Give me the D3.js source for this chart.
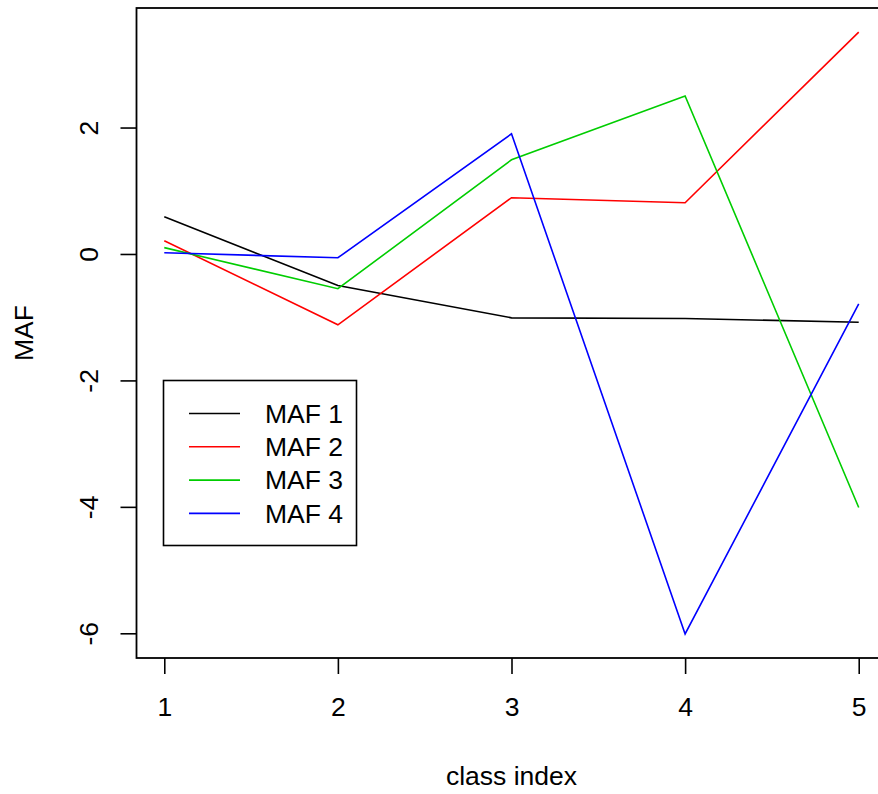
<!DOCTYPE html>
<html>
<head>
<meta charset="utf-8">
<script src="https://cdn.jsdelivr.net/npm/d3@7"></script>
<style>
  html, body { margin: 0; padding: 0; background: #fff; }
  svg { display: block; }
  text { font-family: "Liberation Sans", Arial, sans-serif; fill: #000; }
</style>
</head>
<body>
<svg id="chart" width="878" height="794"></svg>
<script>
// Class index along the x axis
const classIndex = [1, 2, 3, 4, 5];

// MAF scores per class
const maf1 = [0.59, -0.50, -1.01, -1.02, -1.08];
const maf2 = [0.21, -1.12, 0.89, 0.81, 3.51];
const maf3 = [0.10, -0.55, 1.49, 2.50, -4.01];
const maf4 = [0.02, -0.06, 1.90, -6.01, -0.79];

const seriesNames = ["MAF 1", "MAF 2", "MAF 3", "MAF 4"];
const seriesColors = ["#000000", "#FF0000", "#00CD00", "#0000FF"];
const seriesValues = [maf1, maf2, maf3, maf4];

const xTicks = [1, 2, 3, 4, 5];
const yTicks = [-6, -4, -2, 0, 2];

const svg = d3.select("#chart");
const fontSize = 26.5;

// Plot region (box) in pixels
const box = { left: 136.5, right: 886.5, top: 8, bottom: 658 };

// Expand a data extent by 4% on each side
function padded(ext) {
  const d = (ext[1] - ext[0]) * 0.04;
  return [ext[0] - d, ext[1] + d];
}

const x = d3.scaleLinear()
  .domain(padded(d3.extent(classIndex)))
  .range([box.left, box.right]);

const allVals = seriesValues.flat();
const y = d3.scaleLinear()
  .domain(padded(d3.extent(allVals)))
  .range([box.bottom, box.top]);

// Plain ASCII hyphen for negative tick labels
const plainNum = d => String(d);

// Series lines
const line = d3.line()
  .x((d, i) => x(classIndex[i]))
  .y(d => y(d));

svg.append("g")
  .selectAll("path")
  .data(seriesValues)
  .join("path")
  .attr("d", d => line(d))
  .attr("fill", "none")
  .attr("stroke", (d, i) => seriesColors[i])
  .attr("stroke-width", 1.6)
  .attr("stroke-linejoin", "miter");

// X axis (ticks and labels below the box)
const xAxis = d3.axisBottom(x)
  .tickValues(xTicks)
  .tickFormat(plainNum)
  .tickSize(16)
  .tickSizeOuter(0)
  .tickPadding(23);

const gx = svg.append("g")
  .attr("transform", `translate(0,${box.bottom})`)
  .call(xAxis);
gx.select(".domain").remove();
gx.selectAll(".tick line").attr("stroke", "#000").attr("stroke-width", 1.6);
gx.selectAll(".tick text")
  .attr("font-size", fontSize)
  .attr("font-family", "Liberation Sans, Arial, sans-serif")
  .attr("fill", "#000");

// Y axis (ticks left of the box, labels rotated)
const yAxis = d3.axisLeft(y)
  .tickValues(yTicks)
  .tickFormat(plainNum)
  .tickSize(16)
  .tickSizeOuter(0);

const gy = svg.append("g")
  .attr("transform", `translate(${box.left},0)`)
  .call(yAxis);
gy.select(".domain").remove();
gy.selectAll(".tick line").attr("stroke", "#000").attr("stroke-width", 1.6);
gy.selectAll(".tick text")
  .attr("font-size", fontSize)
  .attr("font-family", "Liberation Sans, Arial, sans-serif")
  .attr("fill", "#000")
  .attr("x", null)
  .attr("dy", null)
  .attr("text-anchor", "middle")
  .attr("transform", "translate(-38.5,0) rotate(-90)");

// Plot box
svg.append("rect")
  .attr("x", box.left)
  .attr("y", box.top)
  .attr("width", box.right - box.left)
  .attr("height", box.bottom - box.top)
  .attr("fill", "none")
  .attr("stroke", "#000")
  .attr("stroke-width", 1.8);

// Axis titles
svg.append("text")
  .attr("x", (box.left + box.right) / 2)
  .attr("y", 785)
  .attr("text-anchor", "middle")
  .attr("font-size", fontSize)
  .text("class index");

svg.append("text")
  .attr("transform", `translate(33,${(box.top + box.bottom) / 2}) rotate(-90)`)
  .attr("text-anchor", "middle")
  .attr("font-size", fontSize)
  .text("MAF");

// Legend
const legend = svg.append("g");
legend.append("rect")
  .attr("x", 163.5)
  .attr("y", 380.5)
  .attr("width", 193)
  .attr("height", 165)
  .attr("fill", "#fff")
  .attr("stroke", "#000")
  .attr("stroke-width", 1.6);

const rows = legend.selectAll("g.row")
  .data(seriesNames)
  .join("g")
  .attr("class", "row")
  .attr("transform", (d, i) => `translate(0,${413.5 + i * 33.3})`);

rows.append("line")
  .attr("x1", 189)
  .attr("x2", 240)
  .attr("stroke", (d, i) => seriesColors[i])
  .attr("stroke-width", 1.6);

rows.append("text")
  .attr("x", 265)
  .attr("dy", "0.35em")
  .attr("font-size", fontSize)
  .text(d => d);
</script>
</body>
</html>
